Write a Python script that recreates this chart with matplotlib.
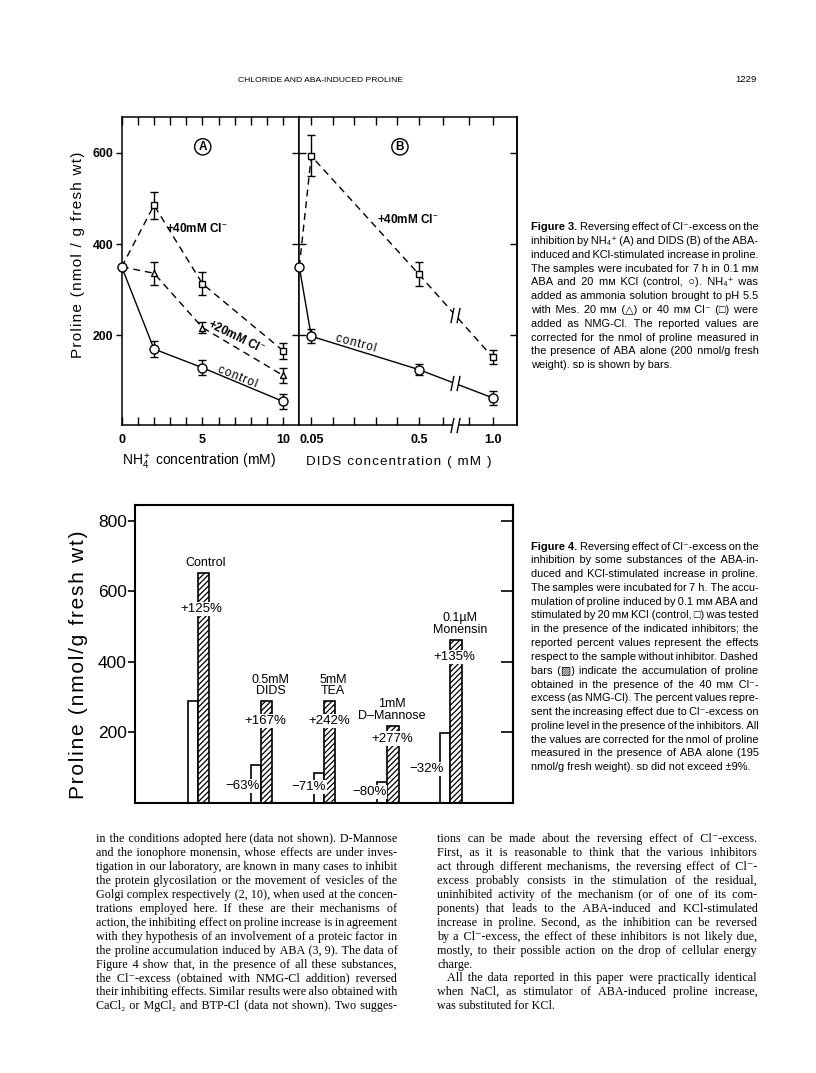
import numpy as np
import matplotlib
matplotlib.use("Agg")
import matplotlib.pyplot as plt
from matplotlib.path import Path

# ---------------- data ----------------
nh4_conc = [0, 2, 5, 10]
nh4_control = [350, 170, 129, 55]
nh4_control_sd = [0, 18, 16, 17]
nh4_cl20 = [350, 336, 217, 112]
nh4_cl20_sd = [0, 25, 12, 16]
nh4_cl40 = [350, 485, 313, 166]
nh4_cl40_sd = [0, 30, 25, 18]

dids_conc = [0, 0.05, 0.5, 1.0]
dids_control = [350, 198, 125, 63]
dids_control_sd = [0, 15, 13, 15]
dids_cl40 = [350, 593, 334, 152]
dids_cl40_sd = [0, 45, 26, 15]

nh4_ticks = [0, 5, 10]
nh4_minor_ticks = [1, 2, 3, 4, 5, 6, 7, 8, 9, 10]
dids_ticks = [0.05, 0.14, 0.23, 0.32, 0.41, 0.5, 0.6, 0.9, 1.0]
dids_labelled = {0.05: "0.05", 0.5: "0.5", 1.0: "1.0"}
proline_ticks3 = [200, 400, 600]

inhibitors = ["Control", "0.5mM\nDIDS", "5mM\nTEA", "1mM\nD\u2013Mannose", "0.1\u00b5M\nMonensin"]
proline_control = [290, 108, 84, 58, 197]
proline_cl40 = [653, 288, 288, 219, 463]
effect_inhibitor = ["", "\u221263%", "\u221271%", "\u221280%", "\u221232%"]
effect_cl40 = ["+125%", "+167%", "+242%", "+277%", "+135%"]
proline_ticks4 = [200, 400, 600, 800]

# ---------------- setup ----------------
W, H = 816, 1073
SANS = ["Liberation Sans", "DejaVu Sans"]
SERIF = ["Liberation Serif", "DejaVu Serif"]
plt.rcParams["font.family"] = SANS
plt.rcParams["mathtext.fontset"] = "custom"
plt.rcParams["mathtext.rm"] = "Liberation Sans"
plt.rcParams["mathtext.it"] = "Liberation Sans:italic"
plt.rcParams["mathtext.bf"] = "Liberation Sans:bold"
plt.rcParams["hatch.linewidth"] = 0.9
plt.rcParams["axes.linewidth"] = 1.1

fig = plt.figure(figsize=(W / 100, H / 100), dpi=100)
fig.patch.set_facecolor("white")

HAIR = "\u200a"
THIN = "\u2009"


def spaced(s):
    return HAIR.join(s)


def rect(l, t, r, b):
    return [l / W, 1 - b / H, (r - l) / W, (b - t) / H]


def fx(x):
    return x / W


def fy(y):
    return 1 - y / H


# ---------------- Figure 3 ----------------
YL3 = (3.5, 679)
axA = fig.add_axes(rect(121.7, 116.7, 299.3, 425))
axB = fig.add_axes(rect(299.3, 116.7, 516.7, 425))

# piecewise scale with a break for the DIDS axis
knots_x = [0, 0.64, 0.85, 1.3]
knots_t = [0, 0.64, 0.659, 1.109]


def fwd(x):
    return np.interp(x, knots_x, knots_t)


def inv(t):
    return np.interp(t, knots_t, knots_x)


break_t = 0.651


def draw_series(ax, x, y, sd, marker, ms, dashed, first_marker):
    x = np.asarray(x, float)
    y = np.asarray(y, float)
    sd = np.asarray(sd, float)
    ax.errorbar(x[1:], y[1:], yerr=sd[1:], fmt="none", ecolor="k",
                elinewidth=1.0, capsize=3.2, capthick=1.0, zorder=2, clip_on=False)
    ln, = ax.plot(x, y, color="k", lw=1.0, marker=marker, ms=ms, mfc="white",
                  mec="k", mew=1.0, zorder=3, clip_on=False,
                  markevery=None if first_marker else slice(1, None))
    if dashed:
        ln.set_dashes([5, 3.5])
    return ln


for ax in (axA, axB):
    ax.set_ylim(*YL3)

axA.set_xlim(0, 11)
draw_series(axA, nh4_conc, nh4_cl40, nh4_cl40_sd, "s", 5, True, False)
draw_series(axA, nh4_conc, nh4_cl20, nh4_cl20_sd, "^", 5, True, False)
draw_series(axA, nh4_conc, nh4_control, nh4_control_sd, "o", 6.5, False, True)

axB.set_xscale("function", functions=(fwd, inv))
axB.set_xlim(0, inv(0.9096))
draw_series(axB, dids_conc, dids_cl40, dids_cl40_sd, "s", 5, True, False)
draw_series(axB, dids_conc, dids_control, dids_control_sd, "o", 6.5, False, True)

# break marks
slash = Path([(-3, -5), (-1, 5), (1, -5), (3, 5)],
             [Path.MOVETO, Path.LINETO, Path.MOVETO, Path.LINETO])
gap = Path([(-3, -5), (1, -5), (3, 5), (-1, 5), (-3, -5)],
           [Path.MOVETO, Path.LINETO, Path.LINETO, Path.LINETO, Path.CLOSEPOLY])
bx = float(inv(break_t))
t0, t1 = fwd(0.5), fwd(1.0)
frac = (break_t - t0) / (t1 - t0)
break_y = [YL3[0]]
for ser in (dids_cl40, dids_control):
    break_y.append(ser[2] + frac * (ser[3] - ser[2]))
for by in break_y:
    axB.plot([bx], [by], ls="none", marker=gap, ms=11, mfc="white", mec="none",
             zorder=4, clip_on=False)
    axB.plot([bx], [by], ls="none", marker=slash, ms=11, mfc="none", mec="k",
             mew=1.0, zorder=5, clip_on=False)

# ticks panel A
axA.set_xticks(nh4_ticks)
axA.set_xticklabels([str(v) for v in nh4_ticks])
axA.set_xticks(nh4_minor_ticks, minor=True)
axA.tick_params(axis="x", which="both", direction="in", length=6, width=1.0,
                top=True, bottom=True, pad=6.5, labelsize=9)
axA.set_yticks(proline_ticks3)
axA.tick_params(axis="y", which="both", direction="out", length=4.5, width=1.0,
                left=True, right=False, pad=1.5, labelsize=8.8)
plt.setp(axA.get_xticklabels() + axA.get_yticklabels(), fontweight="bold")

# ticks panel B
axB.set_xticks(dids_ticks)
axB.set_xticklabels([dids_labelled.get(v, "") for v in dids_ticks])
axB.xaxis.set_minor_locator(matplotlib.ticker.NullLocator())
axB.tick_params(axis="x", which="both", direction="in", length=6, width=1.0,
                top=True, bottom=True, pad=6.5, labelsize=9)
plt.setp(axB.get_xticklabels(), fontweight="bold")
axB.set_yticks(proline_ticks3)
axB.tick_params(axis="y", direction="inout", length=10, width=1.0,
                left=True, right=False, labelleft=False)
secB = axB.secondary_yaxis("right")
secB.set_yticks(proline_ticks3)
secB.tick_params(direction="in", length=5, width=1.0, labelright=False)

axA.set_ylabel(spaced("Proline (nmol / g fresh wt)"), fontsize=11)
axA.yaxis.set_label_coords(-0.205, 0.551)
axA.set_xlabel("NH$_4^+$ concentration (mM)", fontsize=10)
axA.xaxis.set_label_coords(0.435, -0.119)
axA.xaxis.label.set_va("center")
axB.set_xlabel(spaced("DIDS concentration ( mM )"), fontsize=9.6)
axB.xaxis.set_label_coords(0.458, -0.119)
axB.xaxis.label.set_va("center")

circ = dict(boxstyle="circle,pad=0.18", fc="white", ec="k", lw=1.0)
axA.text(5.02, 613, "A", ha="center", va="center", fontsize=8.5,
         fontweight="bold", bbox=circ)
axB.text(inv(0.421), 613, "B", ha="center", va="center", fontsize=8.5,
         fontweight="bold", bbox=circ)

lab = dict(ha="center", va="center", fontsize=8.5, fontweight="bold")
axA.text(4.67, 435, "+40mM Cl$^{-}$", **lab)
axA.text(7.1, 197, "+20mM Cl$^{-}$", rotation=-26, **lab)
axA.text(7.14, 109, spaced("control"), rotation=-22, ha="center", va="center",
         fontsize=8.5)
axB.text(inv(0.456), 453, "+40mM Cl$^{-}$", **lab)
axB.text(inv(0.236), 182, spaced("control"), rotation=-15, ha="center", va="center",
         fontsize=8.5)

# ---------------- Figure 4 ----------------
ax4 = fig.add_axes(rect(135, 505, 513.3, 802.7))
ax4.spines[:].set_linewidth(1.5)
pos = np.arange(1, len(inhibitors) + 1)
ax4.bar(pos, proline_control, width=-0.165, align="edge", color="white",
        edgecolor="k", lw=1.2, zorder=2)
ax4.bar(pos, proline_cl40, width=0.18, align="edge", color="white",
        edgecolor="k", lw=1.2, hatch="//////", zorder=2)
ax4.set_xlim(0, 6)
ax4.set_ylim(0, 845)
ax4.set_xticks([])
ax4.set_yticks(proline_ticks4)
ax4.tick_params(axis="y", direction="out", length=5, width=1.2, left=True,
                right=False, pad=1, labelsize=12.5)
sec4 = ax4.secondary_yaxis("right")
sec4.set_yticks(proline_ticks4)
sec4.tick_params(direction="in", length=9, width=1.2, labelright=False)
sec4.spines[:].set_linewidth(1.5)
ax4.set_ylabel(spaced("Proline (nmol/g fresh wt)"), fontsize=15)
ax4.yaxis.set_label_coords(-0.125, 0.463)

PX = 0.72  # points per pixel
name_dx = [2, 4, 3, -1, 4.5]
cl_dx = [-2.5, -1, -1, -1, -1.5]
cl_drop = [36, 20, 20, 13, 17]
inh_dx = [0, -13.7, -10.7, -12.9, -18]
inh_drop = [0, 21, 14, 10, 36]
wbox = dict(boxstyle="square,pad=0.08", fc="white", ec="none")
for i, p in enumerate(pos):
    ax4.annotate(inhibitors[i], xy=(p + 0.09, proline_cl40[i]),
                 xytext=(name_dx[i] * PX, 4 * PX), textcoords="offset points",
                 ha="center", va="bottom", fontsize=9, linespacing=0.95,
                 zorder=5)
    ax4.annotate(effect_cl40[i], xy=(p + 0.09, proline_cl40[i]),
                 xytext=(cl_dx[i] * PX, -cl_drop[i] * PX), textcoords="offset points",
                 ha="center", va="center", fontsize=9.5, bbox=wbox, zorder=5)
    if effect_inhibitor[i]:
        ax4.annotate(effect_inhibitor[i], xy=(p - 0.0825, proline_control[i]),
                     xytext=(inh_dx[i] * PX, -inh_drop[i] * PX),
                     textcoords="offset points", ha="center", va="center",
                     fontsize=9.5, bbox=wbox, zorder=5)

# ---------------- text blocks ----------------
renderer = fig.canvas.get_renderer()
_cache = {}


def text_w(s, family, size, weight="normal"):
    key = (s, tuple(family), size, weight)
    if key not in _cache:
        t = fig.text(0, 0, s, family=family, size=size, weight=weight)
        _cache[key] = t.get_window_extent(renderer).width
        t.remove()
    return _cache[key]


def build_line(words, width, family, size, just):
    """Join words into one string; widen gaps with hair spaces to justify."""
    plain = " ".join(words)
    if not just or len(words) < 2:
        return plain
    sep = " "
    extra = width - text_w(plain, family, size)
    if extra < 0:
        sep = THIN
        plain = sep.join(words)
        extra = width - text_w(plain, family, size)
    hair = text_w("a" + HAIR * 10 + "a", family, size) - text_w("aa", family, size)
    hair /= 10.0
    n = len(words) - 1
    total_h = max(0, int(round(extra / hair)))
    out = words[0]
    done = 0
    for i in range(n):
        k = int(round(total_h * (i + 1) / n)) - done
        done += k
        out += sep + HAIR * k + words[i + 1]
    return out


def paragraph(lines, x0, x1, y0, dy, family, size, bold_prefix=None):
    """lines: list of (text, justify, indent_px)"""
    for i, (line, just, indent) in enumerate(lines):
        y = y0 + i * dy
        start = x0 + indent
        if i == 0 and bold_prefix:
            rest = line[len(bold_prefix):].lstrip(" ")
            wb = text_w(bold_prefix + " ", family, size, "bold")
            fig.text(fx(start), fy(y), bold_prefix, family=family, size=size,
                     weight="bold", ha="left", va="baseline")
            start += wb
            line = rest
        s = build_line(line.split(" "), x1 - start, family, size, just)
        fig.text(fx(start), fy(y), s, family=family, size=size,
                 ha="left", va="baseline")


cap3 = [
    "Figure 3. Reversing effect of Cl\u207b-excess on the",
    "inhibition by NH\u2084\u207a (A) and DIDS (B) of the ABA-",
    "induced and KCl-stimulated increase in proline.",
    "The samples were incubated for 7 h in 0.1 m\u1d0d",
    "ABA and 20 m\u1d0d KCl (control, \u25cb). NH\u2084\u207a was",
    "added as ammonia solution brought to pH 5.5",
    "with Mes. 20 m\u1d0d (\u25b3) or 40 m\u1d0d Cl\u207b (\u25a1) were",
    "added as NMG-Cl. The reported values are",
    "corrected for the nmol of proline measured in",
    "the presence of ABA alone (200 nmol/g fresh",
    "weight). s\u1d05 is shown by bars.",
]
cap4 = [
    "Figure 4. Reversing effect of Cl\u207b-excess on the",
    "inhibition by some substances of the ABA-in-",
    "duced and KCl-stimulated increase in proline.",
    "The samples were incubated for 7 h. The accu-",
    "mulation of proline induced by 0.1 m\u1d0d ABA and",
    "stimulated by 20 m\u1d0d KCl (control, \u25a1) was tested",
    "in the presence of the indicated inhibitors; the",
    "reported percent values represent the effects",
    "respect to the sample without inhibitor. Dashed",
    "bars (\u25a8) indicate the accumulation of proline",
    "obtained in the presence of the 40 m\u1d0d Cl\u207b-",
    "excess (as NMG-Cl). The percent values repre-",
    "sent the increasing effect due to Cl\u207b-excess on",
    "proline level in the presence of the inhibitors. All",
    "the values are corrected for the nmol of proline",
    "measured in the presence of ABA alone (195",
    "nmol/g fresh weight). s\u1d05 did not exceed \u00b19%.",
]
body_left = [
    "in the conditions adopted here (data not shown). D-Mannose",
    "and the ionophore monensin, whose effects are under inves-",
    "tigation in our laboratory, are known in many cases to inhibit",
    "the protein glycosilation or the movement of vesicles of the",
    "Golgi complex respectively (2, 10), when used at the concen-",
    "trations employed here. If these are their mechanisms of",
    "action, the inhibiting effect on proline increase is in agreement",
    "with they hypothesis of an involvement of a proteic factor in",
    "the proline accumulation induced by ABA (3, 9). The data of",
    "Figure 4 show that, in the presence of all these substances,",
    "the Cl\u207b-excess (obtained with NMG-Cl addition) reversed",
    "their inhibiting effects. Similar results were also obtained with",
    "CaCl\u2082 or MgCl\u2082 and BTP-Cl (data not shown). Two sugges-",
]
body_right = [
    "tions can be made about the reversing effect of Cl\u207b-excess.",
    "First, as it is reasonable to think that the various inhibitors",
    "act through different mechanisms, the reversing effect of Cl\u207b-",
    "excess probably consists in the stimulation of the residual,",
    "uninhibited activity of the mechanism (or of one of its com-",
    "ponents) that leads to the ABA-induced and KCl-stimulated",
    "increase in proline. Second, as the inhibition can be reversed",
    "by a Cl\u207b-excess, the effect of these inhibitors is not likely due,",
    "mostly, to their possible action on the drop of cellular energy",
    "charge.",
    "All the data reported in this paper were practically identical",
    "when NaCl, as stimulator of ABA-induced proline increase,",
    "was substituted for KCl.",
]

CAP = 7.9
paragraph([(s, i < len(cap3) - 1, 0) for i, s in enumerate(cap3)],
          530.7, 758, 230.2, 13.8, SANS, CAP, bold_prefix="Figure 3.")
paragraph([(s, i < len(cap4) - 1, 0) for i, s in enumerate(cap4)],
          530.7, 758, 549.5, 13.8, SANS, CAP, bold_prefix="Figure 4.")

BODY = 8.7
paragraph([(s, True, 0) for s in body_left], 96, 397, 842, 13.95, SERIF, BODY)
right_spec = []
for i, s in enumerate(body_right):
    just = i not in (9, 12)
    indent = 10 if i == 10 else 0
    right_spec.append((s, just, indent))
paragraph(right_spec, 437, 757, 842, 13.95, SERIF, BODY)

# running head
fig.text(fx(320.5), fy(82), "CHLORIDE AND ABA-INDUCED PROLINE", ha="center",
         va="baseline", fontsize=6.1)
fig.text(fx(757), fy(82), "1229", ha="right", va="baseline", fontsize=6.8)

fig.savefig("out.png", dpi=100, facecolor="white")
